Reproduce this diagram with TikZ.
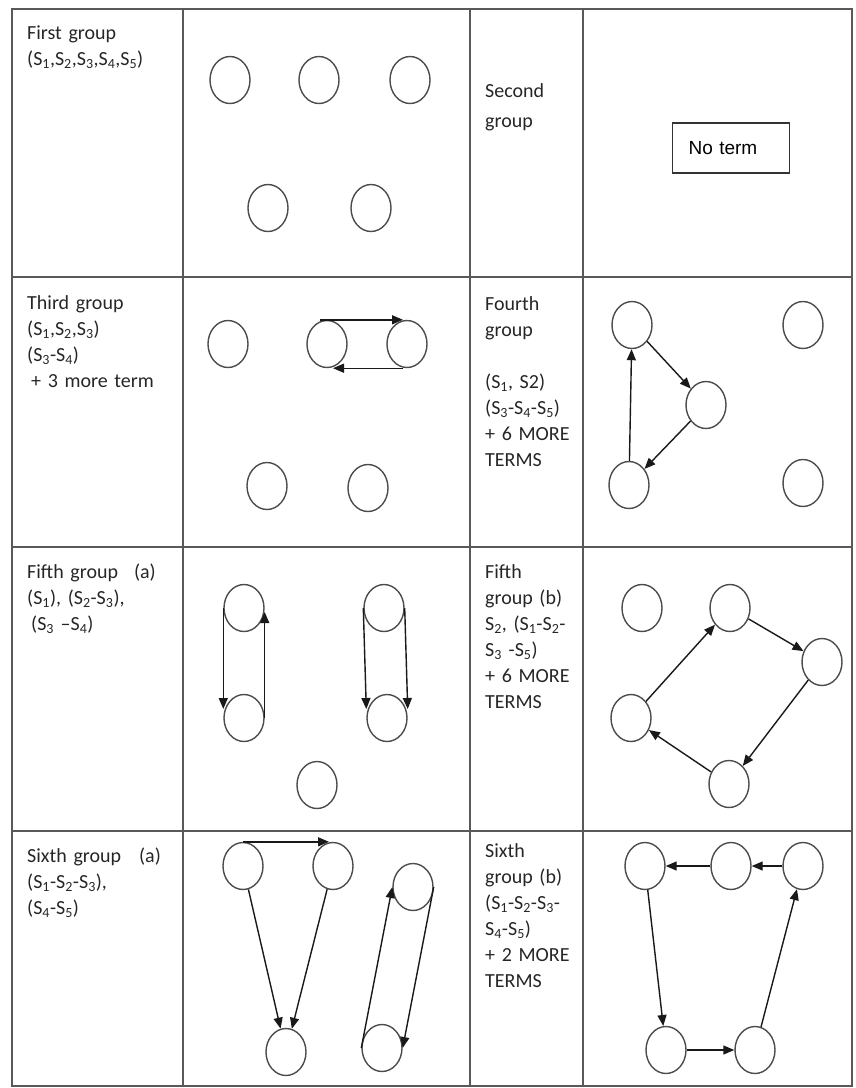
\documentclass[tikz,border=0pt]{standalone}
\usepackage{fontspec}
\setmainfont{Carlito}
\newfontfamily\arialfont{Liberation Sans}
\usetikzlibrary{shapes.geometric,arrows.meta}
\newcommand{\subS}[1]{S\textsubscript{#1}}
\begin{document}
\begin{tikzpicture}[x=1pt,y=-1pt,
  grid/.style={line width=1.8pt,draw=black!65},
  txt/.style={anchor=base west,align=left,inner sep=0pt,text=black!85,font=\fontsize{20}{26}\selectfont},
  colA/.style={txt,text width=150pt},
  colB/.style={txt,text width=110pt},
  st/.style={draw=black!70,ellipse,line width=1.4pt,minimum width=40pt,minimum height=47pt,inner sep=0pt},
  arr/.style={-{Triangle[length=11pt,width=9pt]},line width=1.4pt,draw=black!90}]
\useasboundingbox (0,0) rectangle (855,1088);
% table
\draw[grid] (12,9) rectangle (852,1086);
\foreach \x in {183,470,583} \draw[grid] (\x,9) -- (\x,1086);
\foreach \y in {277,547,831} \draw[grid] (12,\y) -- (852,\y);
% texts
\node[colA] (t11) at (27,39) {First group\\(\subS{1},\subS{2},\subS{3},\subS{4},\subS{5})};
\node[colB,font=\fontsize{20}{30}\selectfont] (t13) at (485,97) {Second\\group};
\node[anchor=west,draw=black!80,line width=1.4pt,minimum height=50pt,text width=85pt,inner xsep=16pt,align=left,font=\arialfont\fontsize{19}{22}\selectfont] (noterm) at (672,148) {No term};
\node[colA] (t21) at (27,309) {Third group\\(\subS{1},\subS{2},\subS{3})\\(\subS{3}-\subS{4})\\\hspace{4pt}+ 3 more term};
\node[colB] (t23) at (485,310) {Fourth\\group\\[26pt](\subS{1}, S2)\\(\subS{3}-\subS{4}-\subS{5})\\+ 6 MORE\\TERMS};
\node[colA] (t31) at (27,578) {Fifth group\hspace{16pt}(a)\\(\subS{1}), (\subS{2}-\subS{3}),\\\hspace{4pt}(\subS{3} –\subS{4})};
\node[colB] (t33) at (485,578) {Fifth\\group (b)\\\subS{2}, (\subS{1}-\subS{2}-\\\subS{3} -\subS{5})\\+ 6 MORE\\TERMS};
\node[colA] (t41) at (27,862) {Sixth group\hspace{18pt}(a)\\(\subS{1}-\subS{2}-\subS{3}),\\(\subS{4}-\subS{5})};
\node[colB] (t43) at (485,857) {Sixth\\group (b)\\(\subS{1}-\subS{2}-\subS{3}-\\\subS{4}-\subS{5})\\+ 2 MORE\\TERMS};
% row 1 graph
\node[st] (a1) at (230,80) {};
\node[st] (a2) at (319,80) {};
\node[st] (a3) at (410,80) {};
\node[st] (a4) at (268,208) {};
\node[st] (a5) at (371,208) {};
% row 2 left graph
\node[st] (b1) at (228,344) {};
\node[st] (b2) at (327,344) {};
\node[st] (b3) at (407,344) {};
\node[st] (b4) at (267,486) {};
\node[st] (b5) at (368,488) {};
\draw[arr] ([xshift=-7pt]b2.north) -- ([xshift=-4pt]b3.north);
\draw[arr] ([xshift=-4pt]b3.south) -- ([xshift=6pt]b2.south);
% row 2 right graph
\node[st] (p1) at (632,325) {};
\node[st] (p2) at (803,325) {};
\node[st] (p3) at (706,405) {};
\node[st] (p4) at (629,485) {};
\node[st] (p5) at (803,483) {};
\draw[arr] (p1) -- (p3);
\draw[arr] (p3) -- (p4);
\draw[arr] (p4) -- (p1);
% row 3 left graph
\node[st] (q1) at (244,608) {};
\node[st] (q2) at (244,718) {};
\node[st] (q3) at (384,608) {};
\node[st] (q4) at (387,718) {};
\node[st] (q5) at (317,785) {};
\draw[arr] (q1.west) -- ([yshift=9pt]q2.west);
\draw[arr] (q2.east) -- ([yshift=-4pt]q1.east);
\draw[arr] (q3.west) -- ([yshift=9pt]q4.west);
\draw[arr] (q3.east) -- ([yshift=9pt]q4.east);
% row 3 right graph
\node[st] (r1) at (642,608) {};
\node[st] (r2) at (730,608) {};
\node[st] (r3) at (822,662) {};
\node[st] (r4) at (631,718) {};
\node[st] (r5) at (729,784) {};
\draw[arr] (r4) -- (r2);
\draw[arr] (r2) -- (r3);
\draw[arr] (r3) -- (r5);
\draw[arr] (r5) -- (r4);
% row 4 left graph
\node[st] (s1) at (243,866) {};
\node[st] (s2) at (333,866) {};
\node[st] (s3) at (286,1052) {};
\node[st] (s4) at (413,887) {};
\node[st] (s5) at (382,1048) {};
\draw[arr] (s1.north) -- ([xshift=-4pt]s2.north);
\draw[arr] (s1) -- (s3);
\draw[arr] (s2) -- (s3);
\draw[arr] (s5.west) -- (s4.west);
\draw[arr] (s4.east) -- (s5.east);
% row 4 right graph
\node[st] (u1) at (645,866) {};
\node[st] (u2) at (731,866) {};
\node[st] (u3) at (803,866) {};
\node[st] (u4) at (666,1050) {};
\node[st] (u5) at (755,1050) {};
\draw[arr] (u3) -- (u2);
\draw[arr] (u2) -- (u1);
\draw[arr] (u1) -- (u4);
\draw[arr] (u4) -- (u5);
\draw[arr] (u5) -- (u3);
\end{tikzpicture}
\end{document}
